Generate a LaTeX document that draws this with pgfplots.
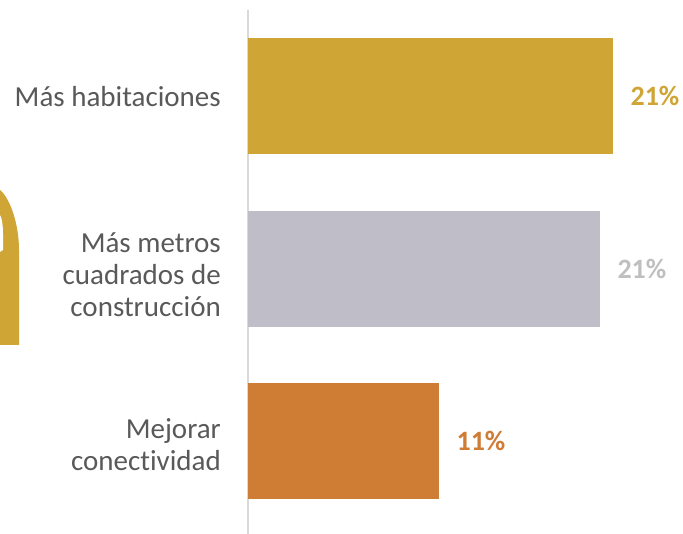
\documentclass[border=0pt]{standalone}
\usepackage{pgfplots}
\pgfplotsset{compat=1.18}
\usepackage{fontspec}
\setmainfont{Carlito}[Ligatures=CommonOff]
\definecolor{cgold}{RGB}{207,165,54}
\definecolor{cgray}{RGB}{191,190,200}
\definecolor{corange}{RGB}{207,124,53}
\definecolor{cgraylab}{RGB}{191,191,191}
\definecolor{ctext}{RGB}{89,89,89}
\definecolor{caxis}{RGB}{217,217,217}
\begin{document}
\begin{tikzpicture}
\useasboundingbox (0pt,0pt) rectangle (683pt,534pt);
% decorative shape at left edge
\fill[cgold] (0pt,344pt) .. controls (10pt,336pt) and (19pt,310pt) .. (19pt,284pt) -- (19pt,189pt) -- (0pt,189pt) -- cycle;
\fill[white] (0pt,319pt) .. controls (2pt,316pt) and (3pt,308pt) .. (3pt,300pt) -- (3pt,284pt) -- (0pt,282pt) -- cycle;
\begin{axis}[
  at={(248pt,0pt)}, anchor=south west,
  scale only axis,
  width=435pt, height=524pt,
  xmin=0, xmax=25,
  ymin=-0.539, ymax=2.499,
  xbar, bar shift=0pt, bar width=116pt,
  axis x line=none,
  axis y line=left,
  y axis line style={draw=caxis, line width=1.5pt, -},
  ytick={-0.02,0.962,2},
  yticklabels={{Mejorar\\conectividad},{Más metros\\cuadrados de\\construcción},{Más habitaciones}},
  major tick length=0pt,
  yticklabel style={align=right, text=ctext, inner sep=0pt, xshift=-27pt,
    font=\fontsize{29}{32}\selectfont},
  point meta=explicit symbolic,
  nodes near coords,
  nodes near coords style={anchor=west, inner sep=0pt, xshift=17pt,
    font=\fontsize{28}{32}\selectfont\bfseries},
  clip=false,
]
\addplot[fill=cgold, draw=none, nodes near coords style={text=cgold}] coordinates {(21.0,2) [21\%]};
\addplot[fill=cgray, draw=none, nodes near coords style={text=cgraylab}] coordinates {(20.25,1) [21\%]};
\addplot[fill=corange, draw=none, nodes near coords style={text=corange}] coordinates {(11.0,0) [11\%]};
\end{axis}
\end{tikzpicture}
\end{document}
